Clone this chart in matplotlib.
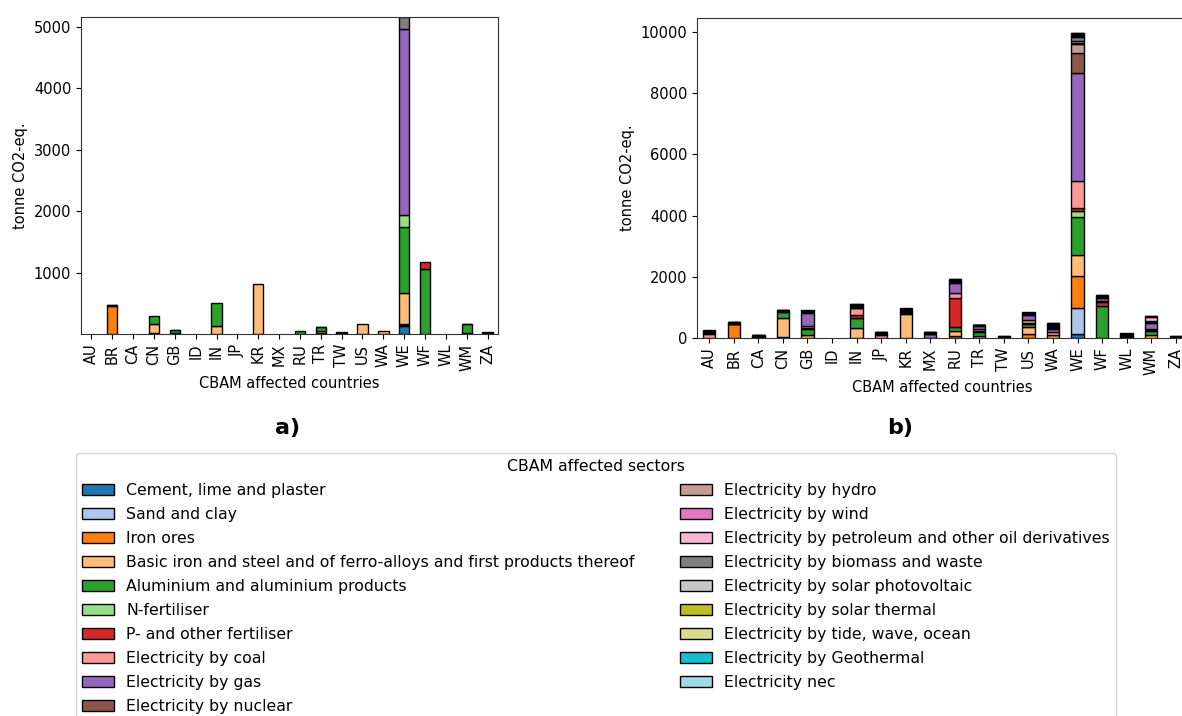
import numpy as np
import matplotlib
matplotlib.use("Agg")
import matplotlib.pyplot as plt

countries = ["AU", "BR", "CA", "CN", "GB", "ID", "IN", "JP", "KR", "MX",
             "RU", "TR", "TW", "US", "WA", "WE", "WF", "WL", "WM", "ZA"]

sectors = ["Cement, lime and plaster", "Sand and clay", "Iron ores",
           "Basic iron and steel and of ferro-alloys and first products thereof",
           "Aluminium and aluminium products", "N-fertiliser", "P- and other fertiliser",
           "Electricity by coal", "Electricity by gas", "Electricity by nuclear",
           "Electricity by hydro", "Electricity by wind",
           "Electricity by petroleum and other oil derivatives",
           "Electricity by biomass and waste", "Electricity by solar photovoltaic",
           "Electricity by solar thermal", "Electricity by tide, wave, ocean",
           "Electricity by Geothermal", "Electricity nec"]

colors = ["#1f77b4", "#aec7e8", "#ff7f0e", "#ffbb78", "#2ca02c", "#98df8a",
          "#d62728", "#ff9896", "#9467bd", "#8c564b", "#c49c94", "#e377c2",
          "#f7b6d2", "#7f7f7f", "#c7c7c7", "#bcbd22", "#dbdb8d", "#17becf", "#9edae5"]

# panel a) values per sector (tonne CO2-eq.)
cement_a  = [0, 0, 0, 0, 0, 0, 0, 0, 0, 0, 0, 0, 0, 0, 0, 125, 0, 0, 0, 0]
sand_a    = [0, 0, 0, 0, 0, 0, 0, 0, 0, 0, 0, 0, 0, 0, 0, 15, 0, 0, 0, 0]
iron_a    = [0, 460, 0, 15, 10, 0, 0, 0, 0, 0, 0, 10, 5, 0, 0, 15, 0, 0, 10, 5]
basic_a   = [0, 0, 0, 150, 10, 0, 135, 0, 815, 0, 0, 35, 5, 170, 50, 510, 0, 0, 10, 5]
alu_a     = [0, 0, 0, 135, 45, 0, 365, 0, 0, 0, 45, 65, 5, 0, 0, 1080, 1065, 0, 140, 5]
nfert_a   = [0, 0, 0, 0, 0, 0, 0, 0, 0, 0, 0, 0, 0, 0, 0, 195, 0, 0, 0, 0]
pfert_a   = [0, 0, 0, 0, 0, 0, 0, 0, 0, 0, 0, 0, 0, 0, 0, 0, 100, 0, 0, 0]
coal_a    = [0, 10, 0, 0, 5, 0, 0, 0, 0, 0, 0, 5, 5, 0, 0, 0, 0, 0, 5, 5]
gas_a     = [0, 10, 0, 0, 0, 0, 0, 0, 0, 0, 0, 0, 5, 0, 0, 3020, 0, 0, 0, 5]
nuclear_a = [0] * 20
hydro_a   = [0] * 20
wind_a    = [0] * 20
petrol_a  = [0] * 20
biomass_a = [0, 0, 0, 0, 0, 0, 0, 0, 0, 0, 0, 0, 0, 0, 0, 200, 0, 0, 0, 0]
pv_a      = [0] * 20
thermal_a = [0] * 20
tide_a    = [0] * 20
geo_a     = [0] * 20
nec_a     = [0] * 20

# panel b) values per sector (tonne CO2-eq.)
cement_b  = [0, 0, 0, 10, 0, 0, 0, 0, 0, 0, 10, 0, 0, 0, 0, 140, 0, 0, 0, 0]
sand_b    = [0, 0, 0, 0, 0, 0, 0, 0, 0, 0, 5, 0, 0, 0, 0, 850, 0, 0, 0, 0]
iron_b    = [0, 450, 10, 20, 0, 0, 10, 0, 0, 0, 50, 0, 5, 120, 0, 1050, 0, 0, 0, 5]
basic_b   = [0, 0, 10, 620, 90, 0, 310, 0, 800, 10, 150, 80, 5, 240, 100, 680, 0, 10, 110, 5]
alu_b     = [0, 0, 10, 200, 220, 0, 340, 0, 0, 0, 140, 130, 5, 110, 0, 1250, 1040, 10, 130, 5]
nfert_b   = [0, 0, 0, 0, 0, 0, 0, 0, 0, 0, 0, 0, 0, 0, 0, 185, 0, 0, 0, 0]
pfert_b   = [0, 0, 0, 0, 10, 0, 90, 0, 0, 0, 940, 10, 0, 20, 10, 100, 140, 0, 30, 0]
coal_b    = [130, 10, 10, 0, 60, 0, 220, 100, 20, 0, 180, 60, 5, 110, 70, 870, 20, 10, 40, 5]
gas_b     = [20, 10, 10, 10, 450, 0, 20, 20, 20, 110, 310, 120, 5, 150, 120, 3545, 110, 10, 180, 5]
nuclear_b = [20, 10, 10, 10, 20, 0, 20, 20, 20, 20, 30, 10, 5, 20, 20, 655, 20, 20, 20, 5]
hydro_b   = [20, 10, 10, 10, 10, 0, 20, 20, 20, 20, 20, 10, 5, 20, 20, 295, 20, 20, 20, 5]
wind_b    = [10, 10, 5, 10, 10, 0, 20, 10, 20, 10, 20, 5, 5, 10, 20, 20, 10, 20, 10, 5]
petrol_b  = [20, 10, 10, 20, 10, 0, 30, 20, 30, 10, 30, 5, 5, 20, 20, 70, 20, 20, 150, 5]
biomass_b = [20, 10, 10, 10, 10, 0, 20, 10, 20, 10, 30, 5, 5, 10, 20, 130, 20, 20, 20, 5]
pv_b      = [10, 10, 5, 10, 10, 0, 20, 10, 20, 10, 20, 5, 5, 10, 20, 40, 10, 10, 10, 5]
thermal_b = [0, 0, 0, 0, 0, 0, 0, 0, 0, 0, 0, 0, 0, 0, 20, 25, 0, 0, 0, 0]
tide_b    = [0, 0, 0, 0, 0, 0, 0, 0, 0, 0, 0, 0, 0, 0, 20, 25, 0, 0, 0, 0]
geo_b     = [0, 0, 0, 0, 0, 0, 0, 0, 0, 0, 0, 0, 0, 0, 20, 25, 0, 0, 0, 0]
nec_b     = [0, 0, 0, 0, 0, 0, 0, 0, 0, 0, 0, 0, 0, 0, 20, 25, 0, 0, 0, 0]

data_a = [cement_a, sand_a, iron_a, basic_a, alu_a, nfert_a, pfert_a, coal_a, gas_a,
          nuclear_a, hydro_a, wind_a, petrol_a, biomass_a, pv_a, thermal_a, tide_a,
          geo_a, nec_a]
data_b = [cement_b, sand_b, iron_b, basic_b, alu_b, nfert_b, pfert_b, coal_b, gas_b,
          nuclear_b, hydro_b, wind_b, petrol_b, biomass_b, pv_b, thermal_b, tide_b,
          geo_b, nec_b]

plt.rcParams['font.family'] = 'DejaVu Sans'
W, H = 1182, 716
fig = plt.figure(figsize=(W / 100, H / 100), dpi=100)

ax_a = fig.add_axes([81 / W, 1 - 334 / H, 417 / W, 317 / H])
ax_b = fig.add_axes([697 / W, 1 - 338 / H, 491 / W, 320 / H])


def stacked(ax, data):
    x = np.arange(len(countries))
    bottom = np.zeros(len(countries))
    handles = []
    for vals, name, c in zip(data, sectors, colors):
        vals = np.array(vals, dtype=float)
        # zero segments are not drawn (no stray edge lines)
        h = ax.bar(x, np.where(vals > 0, vals, np.nan), 0.5, bottom=bottom, color=c,
                   edgecolor="black", linewidth=1.0, label=name)
        handles.append(h)
        bottom += vals
    ax.set_xticks(x)
    ax.set_xticklabels(countries, rotation=90, fontsize=10.5)
    ax.set_xlim(-0.5, len(countries) - 0.5)
    ax.tick_params(axis="y", labelsize=10.5)
    ax.set_xlabel("CBAM affected countries", fontsize=10.5)
    ax.set_ylabel("tonne CO2-eq.", fontsize=10.5)
    for s in ax.spines.values():
        s.set_color("#333333")
    return handles


handles = stacked(ax_a, data_a)
ax_a.set_ylim(0, 5160)
ax_a.set_yticks([1000, 2000, 3000, 4000, 5000])

stacked(ax_b, data_b)
ax_b.set_ylim(0, 10460)
ax_b.set_yticks([0, 2000, 4000, 6000, 8000, 10000])

fig.text(288 / W, 1 - 428 / H, "a)", fontsize=16, fontweight="bold", ha="center", va="center")
fig.text(900 / W, 1 - 428 / H, "b)", fontsize=16, fontweight="bold", ha="center", va="center")

fig.legend(handles, sectors, loc="upper left", bbox_to_anchor=(76 / W, 1 - 453 / H),
           ncol=2, title="CBAM affected sectors", fontsize=11.3, title_fontsize=11.3,
           borderaxespad=0, columnspacing=2.9, labelspacing=0.57)

fig.savefig("out.png", dpi=100)
